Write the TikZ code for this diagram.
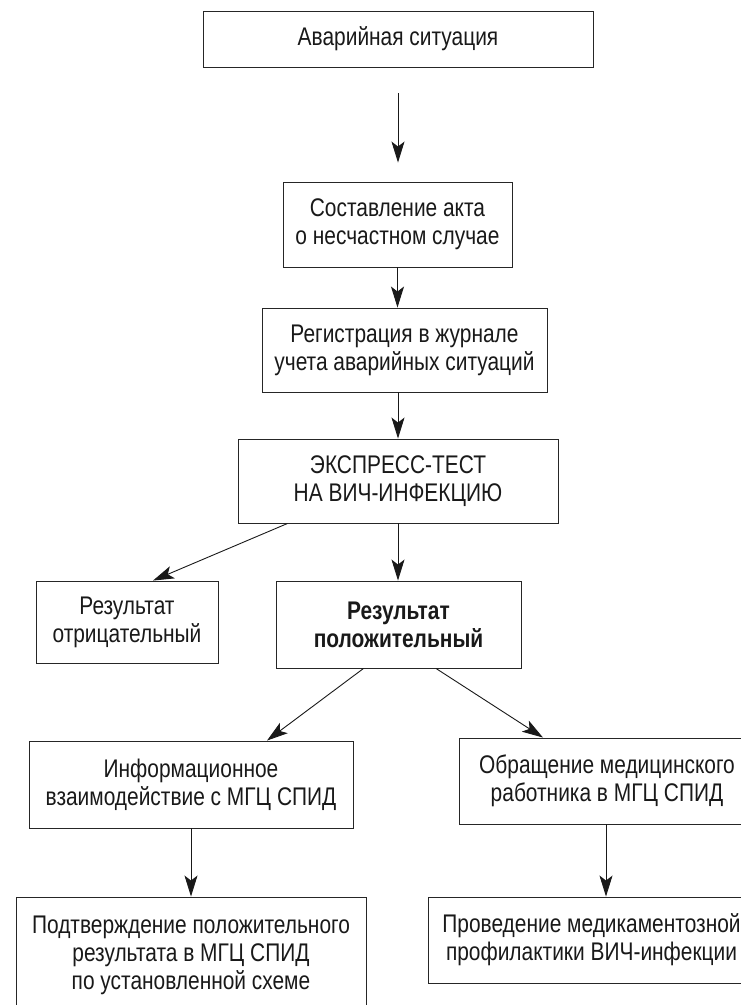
\documentclass[tikz,border=0pt]{standalone}
\usepackage{fontspec}
\setmainfont[FakeStretch=0.82]{Liberation Sans}
\usetikzlibrary{arrows.meta,calc}
\begin{document}
\begin{tikzpicture}[x=1pt,y=-1pt,
  box/.style={draw=black!85,line width=0.9pt,inner sep=0pt,align=center,
    font=\fontsize{25.5}{28}\selectfont,text=black!90},
  arr/.style={draw=black!90,line width=0.9pt,-{Stealth[length=21pt,width=13pt,inset=5pt]}}]
\useasboundingbox (0,0) rectangle (741,1005);
\clip (0,0) rectangle (741,1005);
\node[box,minimum width=390pt,minimum height=56pt] (n1) at (398,39) {Аварийная ситуация};
\node[box,minimum width=229pt,minimum height=85pt] (n2) at (397.5,224.5) {Составление акта\\о несчастном случае};
\node[box,minimum width=285pt,minimum height=84pt] (n3) at (404.5,350) {Регистрация в журнале\\учета аварийных ситуаций};
\node[box,minimum width=320pt,minimum height=84pt] (n4) at (398,481) {ЭКСПРЕСС-ТЕСТ\\НА ВИЧ-ИНФЕКЦИЮ};
\node[box,minimum width=182pt,minimum height=82pt] (n5) at (127,622) {Результат\\отрицательный};
\node[box,minimum width=245pt,minimum height=87pt] (n6) at (398.5,624.5) {\bfseries Результат\\\bfseries положительный};
\node[box,minimum width=324pt,minimum height=87pt] (n7) at (191,784.5) {Информационное\\взаимодействие с МГЦ СПИД};
\node[box,minimum width=296pt,minimum height=86pt] (n8) at (607,781) {Обращение медицинского\\работника в МГЦ СПИД};
\node[box,minimum width=350pt,minimum height=116pt] (n9) at (191,955) {Подтверждение положительного\\результата в МГЦ СПИД\\по установленной схеме};
\node[box,minimum width=327pt,minimum height=86pt] (n10) at (591.5,940) {Проведение медикаментозной\\профилактики ВИЧ-инфекции};
\draw[arr] ([yshift=-26pt]n1.south) -- ([yshift=19pt]n1.south |- n2.north);
\draw[arr] (n2.south) -- (n2.south |- n3.north);
\draw[arr] (n4.north |- n3.south) -- (n4.north);
\draw[arr] ([xshift=50pt]n4.south west) -- ([xshift=26pt]n5.north);
\draw[arr] (n4.south) -- (n4.south |- n6.north);
\draw[arr] ([xshift=-35pt]n6.south) -- ([xshift=76pt]n7.north);
\draw[arr] ([xshift=37.5pt]n6.south) -- ([xshift=-64pt]n8.north);
\draw[arr] (n7.south) -- (n7.south |- n9.north);
\draw[arr] ([xshift=-1pt]n8.south) -- ([xshift=-1pt]n8.south |- n10.north);
\end{tikzpicture}
\end{document}
